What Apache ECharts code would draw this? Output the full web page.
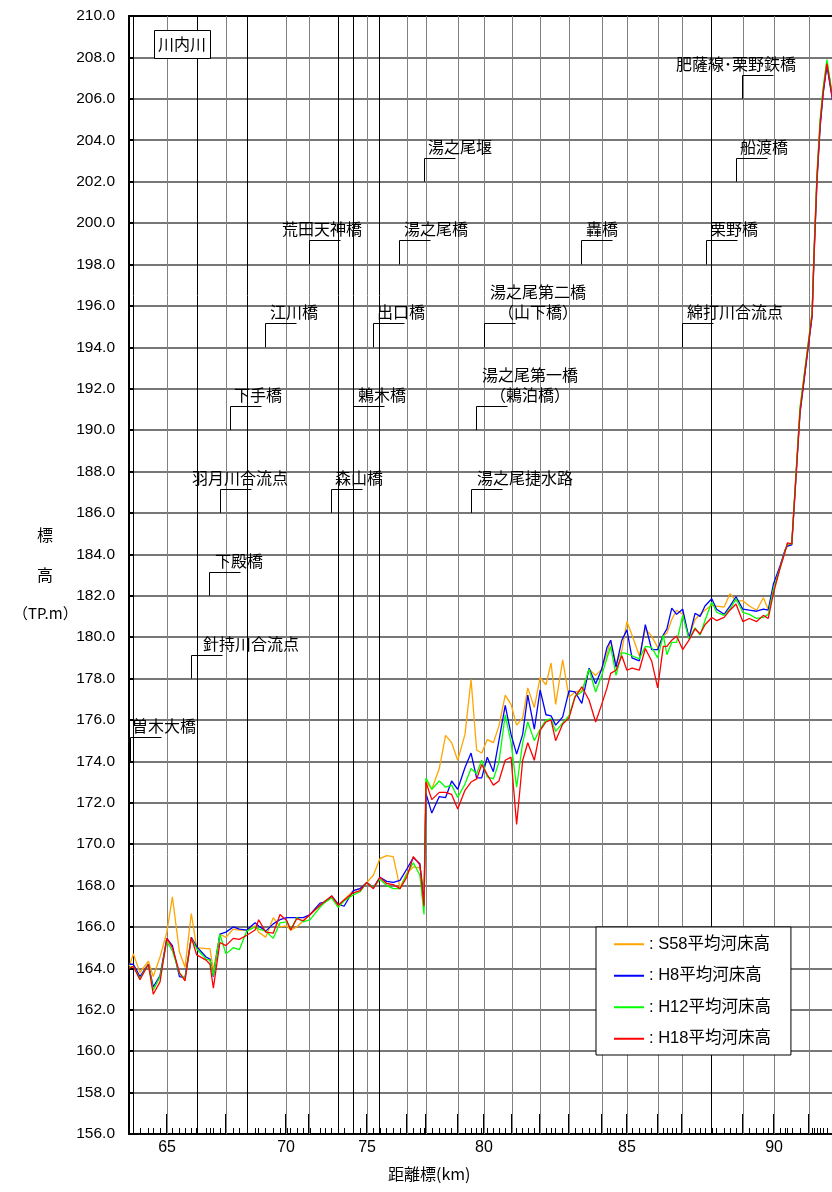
<!DOCTYPE html>
<html><head><meta charset="utf-8">
<script src="https://cdn.jsdelivr.net/npm/echarts@6/dist/echarts.min.js"></script>
<style>html,body{margin:0;padding:0;background:#fff}#c{width:832px;height:1192px}</style>
</head><body><div id="c"></div><script>
// ---------- DATA ----------
// cumulative distance of each cross-section along the chart axis (km units of the plotted scale)
const xDist = [
 63.44,63.61,63.88,64.23,64.43,64.71,64.99,65.22,65.51,65.74,66.00,66.22,66.61,66.77,66.91,67.18,67.43,67.73,67.98,68.29,
 68.63,68.78,69.07,69.38,69.66,69.94,70.10,70.35,70.62,70.90,71.31,71.52,71.79,72.06,72.30,72.68,72.96,73.24,73.51,73.78,
 74.06,74.33,74.61,74.89,75.16,75.43,75.60,
 75.68,75.92,76.23,76.49,76.74,76.99,77.29,77.54,77.77,77.98,78.21,78.46,78.69,78.95,79.19,79.42,79.67,79.88,80.15,80.39,
 80.63,80.84,81.03,81.32,81.58,81.83,82.11,82.41,82.68,82.93,83.15,83.30,83.52,83.76,83.97,84.18,84.48,84.73,84.99,85.24,
 85.47,85.62,85.82,86.02,86.27,86.53,86.78,86.99,
 87.19,87.47,87.67,87.98,88.22,88.47,88.75,89.02,89.32,89.60,89.80,90.01,90.29,90.49,90.59,90.77,
 91.11,91.61,91.69,91.81,91.94,92.06,92.22,92.51
];
const s58 = [
 164.1,164.7,163.8,164.35,163.6,164.55,165.75,167.45,164.8,164.05,166.65,165.0,164.95,164.95,163.9,165.65,165.5,165.9,165.85,165.85,
 166.05,165.75,165.5,166.45,166.0,166.05,165.85,166.0,166.3,166.6,167.05,167.2,167.45,167.05,167.3,167.75,167.85,168.15,168.5,169.3,
 169.45,169.4,167.9,168.6,168.9,168.85,167.8,
 173.05,172.65,173.65,175.25,174.9,174.05,175.3,177.95,174.55,174.4,175.05,174.9,175.7,177.2,176.75,175.75,176.1,177.55,176.6,178.05,
 177.7,178.75,176.75,178.9,177.1,177.35,177.4,178.45,178.15,178.45,179.2,179.85,178.7,179.35,180.75,180.1,179.1,180.4,180.05,179.5,
 180.05,180.2,180.85,181.3,181.1,180.0,180.85,181.1,
 181.3,181.55,181.5,181.45,182.1,181.75,181.75,181.5,181.3,181.9,181.35,182.25,183.35,184.15,184.45,184.5,
 191.0,195.6,198.6,202.2,204.8,206.3,207.8,205.6
];
const h8 = [
 164.2,164.2,163.6,164.2,163.1,163.65,165.45,165.1,163.6,163.55,165.5,165.05,164.55,164.45,163.6,165.65,165.75,166.0,165.9,165.85,
 166.2,166.05,165.8,166.15,166.35,166.45,166.45,166.45,166.45,166.6,167.15,167.2,167.5,167.1,167.0,167.75,167.85,168.15,167.9,168.4,
 168.2,168.15,168.25,168.8,169.35,169.05,167.1,
 172.45,171.5,172.3,172.25,173.05,172.65,173.7,174.4,173.2,173.2,174.2,173.5,175.0,176.7,175.3,174.35,175.3,177.2,175.55,177.45,
 176.25,176.2,175.75,176.15,177.4,177.35,176.8,178.5,177.75,178.45,179.5,179.85,178.55,179.85,180.35,179.0,178.85,180.6,179.4,179.4,
 180.1,180.4,181.4,181.1,181.35,179.95,181.15,181.0,
 181.5,181.85,181.35,181.1,181.5,181.95,181.35,181.3,181.25,181.35,181.3,182.55,183.45,184.2,184.4,184.45,
 190.8,195.5,198.4,202.0,204.6,206.2,207.6,205.5
];
const h12 = [
 164.05,164.1,163.5,164.2,162.95,163.6,165.3,164.85,163.75,163.5,165.45,164.95,164.45,164.4,163.65,165.65,164.7,165.0,164.9,165.8,
 166.0,165.9,165.8,165.45,166.2,166.25,165.85,166.45,166.25,166.35,166.95,167.2,167.4,166.95,167.25,167.55,167.7,168.15,167.9,168.3,
 168.0,167.85,167.85,168.55,169.1,168.5,166.6,
 173.2,172.65,173.05,172.75,172.85,172.25,172.9,173.65,173.4,174.05,173.25,173.15,173.95,176.25,174.9,172.75,174.9,175.9,175.0,175.55,
 176.0,176.05,175.45,175.85,176.2,177.15,177.35,178.45,177.35,178.15,179.0,179.55,178.15,179.25,179.2,179.1,178.95,179.55,179.5,179.0,
 180.1,179.15,179.75,179.75,181.05,179.9,180.45,180.1,
 180.8,181.7,181.2,181.05,181.35,181.85,181.2,181.1,180.9,180.95,181.1,182.3,183.35,184.15,184.5,184.5,
 191.1,195.7,198.7,202.4,205.0,206.5,207.9,205.7
];
const h18 = [
 164.0,164.1,163.45,164.2,162.75,163.35,165.45,165.0,163.8,163.4,165.5,164.65,164.4,164.2,163.05,165.25,165.1,165.45,165.4,165.6,
 165.85,166.35,165.75,165.7,166.6,166.3,165.85,166.4,166.3,166.6,167.05,167.25,167.5,167.05,167.3,167.65,167.75,168.15,167.85,168.4,
 168.1,168.05,167.85,168.4,169.4,169.0,167.0,
 173.0,172.15,172.5,172.5,172.4,171.7,172.6,173.0,173.15,173.85,173.35,172.85,173.05,174.05,174.2,170.95,174.05,174.9,174.05,175.5,
 175.9,176.0,175.0,175.8,176.1,177.1,177.6,176.95,175.9,176.75,177.55,178.25,178.4,179.1,178.4,178.5,178.4,179.45,178.85,177.55,
 179.55,179.55,179.85,180.05,179.4,179.85,180.4,180.15,
 180.6,180.95,180.8,180.95,181.3,181.6,180.75,180.9,180.75,181.05,180.9,182.1,183.35,184.1,184.55,184.5,
 190.9,195.6,198.5,202.2,204.8,206.3,207.7,205.6
];
const seriesNames = ['S58平均河床高', 'H8平均河床高', 'H12平均河床高', 'H18平均河床高'];

// distance-post tick labels
const kmLabels    = ['65', '70', '75', '80', '85', '90'];
const kmLabelDist = [65.00, 69.91, 73.25, 78.07, 83.97, 90.04];
// distance posts (grey verticals with long ticks) and other reference verticals (black)
const kmPostDist  = [65.00, 67.43, 69.91, 70.86, 73.25, 74.90, 75.68, 77.00, 78.07, 79.23, 80.39, 81.58, 82.94, 83.97, 85.25, 86.24, 88.76, 90.04, 91.48];
const refLineDist = [63.60, 66.24, 68.30, 72.05, 72.67, 73.74, 87.44];

// landmarks: name, distance, elevation of the leader foot
const annoNames = ['曽木大橋', '針持川合流点', '下殿橋', '羽月川合流点', '下手橋', '江川橋', '荒田天神橋', '湯之尾橋', '出口橋', '鶫木橋',
  '森山橋', '湯之尾堰', '湯之尾第二橋\n（山下橋）', '湯之尾第一橋\n（鶫泊橋）', '湯之尾捷水路', '轟橋', '綿打川合流点', '栗野橋', '船渡橋', '肥薩線･栗野鉄橋'];
const annoDist = [63.47, 65.99, 66.73, 67.18, 67.60, 69.04, 70.86, 74.57, 73.50, 72.67,
  71.76, 75.60, 78.07, 77.74, 77.54, 82.08, 86.24, 87.23, 88.47, 88.72];
const annoBase = [174, 178, 182, 186, 190, 194, 198, 198, 194, 190,
  186, 202, 194, 190, 186, 198, 194, 198, 202, 206];

const Y_MIN = 156, Y_MAX = 210, Y_STEP = 2;
const X_MIN = 63.43, X_MAX = 92.43;

// ---------- STYLE ----------
const FONT = '"Liberation Sans", "Noto Sans CJK JP", sans-serif';
const JFONT = '"Noto Sans CJK JP", sans-serif';
const colors = ['#FFA500', '#0000FF', '#00FF00', '#FF0000'];
const annoDx = [34, 60, 30, 20, 28, 29, 13, 37, 28, 29, 28, 36, 54, 54, 54, 21, 53, 28, 28, -6];
const LEADER_RISE = 24, LEADER_RUN = 31;

const chart = echarts.init(document.getElementById('c'), null, {renderer: 'canvas'});
const values = [s58, h8, h12, h18];

function vlineSeries(list, color) {
  return {
    type: 'custom', silent: true, z: 1, clip: false,
    data: list.map(d => [d, Y_MIN]),
    renderItem: (params, api) => {
      const b = api.coord([api.value(0), Y_MIN]);
      const t = api.coord([api.value(0), Y_MAX]);
      const x = Math.round(b[0]) + 0.5;
      return {type: 'line', shape: {x1: x, y1: t[1], x2: x, y2: b[1]}, style: {stroke: color, lineWidth: 1}};
    }
  };
}

const option = {
  animation: false,
  backgroundColor: '#fff',
  textStyle: {fontFamily: FONT},
  grid: {left: 129, right: 0, top: 16, bottom: 58},
  xAxis: [
    {
      type: 'value', min: X_MIN, max: X_MAX, position: 'bottom',
      axisLine: {show: true, lineStyle: {color: '#000', width: 2}},
      axisTick: {show: true, inside: true, length: 6, lineStyle: {color: '#000', width: 1},
        customValues: xDist.filter(d => d <= X_MAX)},
      axisLabel: {show: true, customValues: kmLabelDist, margin: 6, color: '#000', fontSize: 16, fontFamily: FONT,
        formatter: v => { const i = kmLabelDist.indexOf(v); return i >= 0 ? kmLabels[i] : ''; }},
      splitLine: {show: false}
    },
    {
      type: 'value', min: X_MIN, max: X_MAX, position: 'bottom',
      axisLine: {show: false},
      axisTick: {show: true, inside: true, length: 20, lineStyle: {color: '#000', width: 2}, customValues: kmPostDist},
      axisLabel: {show: false}, splitLine: {show: false}
    },
    {
      type: 'value', min: X_MIN, max: X_MAX, position: 'top',
      axisLine: {show: true, lineStyle: {color: '#000', width: 2}},
      axisTick: {show: false}, axisLabel: {show: false}, splitLine: {show: false}
    }
  ],
  yAxis: {
    type: 'value', min: Y_MIN, max: Y_MAX, interval: Y_STEP,
    axisLine: {show: true, lineStyle: {color: '#000', width: 2}},
    axisTick: {show: true, inside: true, length: 5, lineStyle: {color: '#000', width: 2}},
    axisLabel: {color: '#000', fontSize: 15.5, margin: 14, fontFamily: FONT, formatter: v => v.toFixed(1)},
    splitLine: {show: true, lineStyle: {color: '#777', width: 2}}
  },
  legend: {
    orient: 'vertical', left: 596, top: 927,
    padding: [9, 20, 8, 18], itemGap: 15, itemWidth: 30, itemHeight: 2, icon: 'rect',
    borderColor: '#000', borderWidth: 1, backgroundColor: '#fff',
    textStyle: {fontSize: 16.5, color: '#000', fontFamily: FONT, lineHeight: 16},
    formatter: n => ': ' + n,
    data: seriesNames
  },
  graphic: [
    {type: 'rect', left: 154, top: 30, z: 100, shape: {width: 56, height: 28},
      style: {fill: '#fff', stroke: '#000', lineWidth: 1}},
    {type: 'text', left: 158, top: 36, z: 101, style: {text: '川内川', font: '16px ' + JFONT, fill: '#000'}},
    {type: 'text', left: 388, top: 1166, style: {text: '距離標(km)', font: '16px ' + JFONT, fill: '#000'}},
    {type: 'text', left: 37, top: 527, style: {text: '標', font: '16px ' + JFONT, fill: '#000'}},
    {type: 'text', left: 37, top: 567, style: {text: '高', font: '16px ' + JFONT, fill: '#000'}},
    {type: 'text', left: 13, top: 606, style: {text: '（TP.m）', font: '15px ' + JFONT, fill: '#000'}}
  ],
  series: [
    vlineSeries(kmPostDist, '#808080'),
    vlineSeries(refLineDist, '#000'),
    ...seriesNames.map((n, k) => ({
      name: n, type: 'line', z: 3, showSymbol: false, symbol: 'none',
      color: colors[k],
      lineStyle: {color: colors[k], width: 1.3},
      data: xDist.map((d, i) => [d, values[k][i]])
    })),
    {
      type: 'custom', silent: true, z: 5, clip: false,
      data: annoDist.map((d, i) => [d, annoBase[i], i]),
      renderItem: (params, api) => {
        const i = api.value(2);
        const p = api.coord([api.value(0), api.value(1)]);
        const x = Math.round(p[0]) + 0.5;
        const top = Math.round(p[1] - LEADER_RISE) + 0.5;
        return {
          type: 'group',
          children: [
            {type: 'polyline', shape: {points: [[x, p[1]], [x, top], [x + LEADER_RUN, top]]},
              style: {stroke: '#000', lineWidth: 1, fill: null}},
            {type: 'text', x: p[0] + annoDx[i], y: top - 2,
              style: {text: annoNames[i], align: 'center', verticalAlign: 'bottom',
                font: '16px ' + JFONT, lineHeight: 20, fill: '#000'}}
          ]
        };
      }
    }
  ]
};
chart.setOption(option);
</script></body></html>
